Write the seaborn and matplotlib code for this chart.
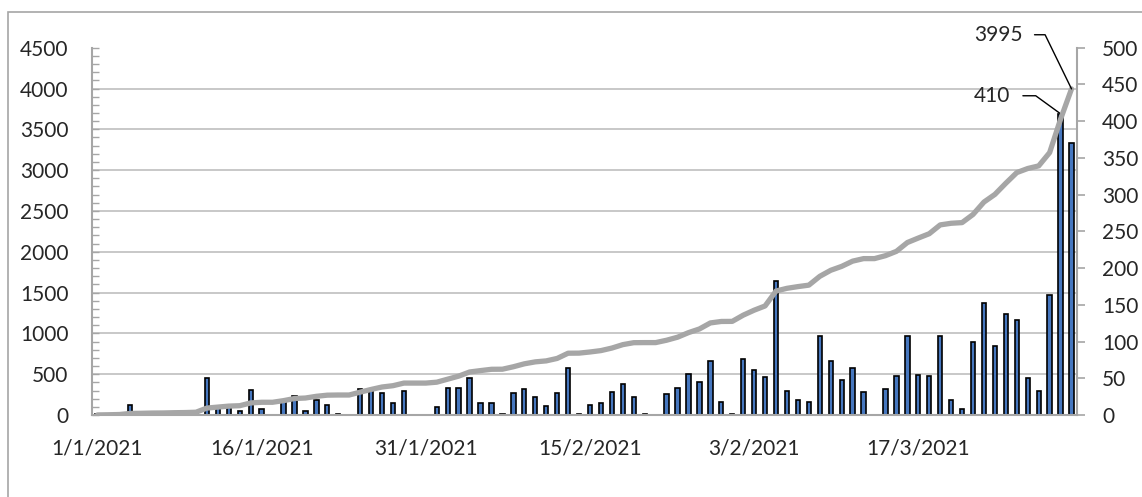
import numpy as np
import matplotlib
matplotlib.use('Agg')
import matplotlib.pyplot as plt
import seaborn as sns
from matplotlib.ticker import MultipleLocator, FixedLocator
from matplotlib.patches import Rectangle

# one category per day, 1/1/2021 onwards
days = list(range(90))

# daily counts (bars, right axis)
daily = [1, 2, 3, 13, 2, 3, 1, 3, 2, 4,
         51, 12, 12, 5, 34, 8, 0, 20, 26, 6,
         21, 14, 2, 0, 35, 33, 30, 16, 32, 0,
         0, 11, 37, 37, 51, 17, 16, 1, 30, 36,
         24, 12, 30, 64, 1, 14, 17, 31, 42, 24,
         1, 0, 29, 37, 56, 45, 74, 18, 1, 76,
         61, 52, 183, 33, 21, 18, 108, 74, 48, 64,
         31, 0, 36, 53, 108, 55, 53, 108, 20, 8,
         100, 152, 94, 137, 130, 50, 32, 163, 410, 370]

# running total (line, left axis)
total = [1, 3, 6, 19, 21, 24, 25, 28, 30, 34,
         85, 97, 109, 114, 148, 156, 156, 176, 202, 208,
         229, 243, 245, 245, 280, 313, 343, 359, 391, 391,
         391, 402, 439, 476, 527, 544, 560, 561, 591, 627,
         651, 663, 693, 757, 758, 772, 789, 820, 862, 886,
         887, 887, 916, 953, 1009, 1054, 1128, 1146, 1147, 1223,
         1284, 1336, 1519, 1552, 1573, 1591, 1699, 1773, 1821, 1885,
         1916, 1916, 1952, 2005, 2113, 2168, 2221, 2329, 2349, 2357,
         2457, 2609, 2703, 2840, 2970, 3020, 3052, 3215, 3625, 3995]

tick_days = [0, 15, 30, 45, 60, 75]
tick_labels = ['1/1/2021', '16/1/2021', '31/1/2021', '15/2/2021', '3/2/2021', '17/3/2021']

sns.set_theme(style='white')
plt.rcParams['font.family'] = ['Lato', 'DejaVu Sans']

W, H = 1142, 497
fig = plt.figure(figsize=(W / 100, H / 100), dpi=100)
ax = fig.add_axes([92 / W, 1 - 415 / H, (1077 - 92) / W, (415 - 47.7) / H])
ax2 = ax.twinx()

# bars on the primary axes (drawn first), line on the twin so it sits on top
sns.barplot(x=days, y=daily, ax=ax, color='#4677bf', edgecolor='black',
            linewidth=1.2, width=0.4, saturation=1)
sns.lineplot(x=days, y=total, ax=ax2, color='#a6a6a6', linewidth=3.8,
             solid_joinstyle='round', solid_capstyle='round')

ax.set_xlim(-0.5, 89.5)
ax.set_xticks(tick_days)
ax.set_xticklabels(tick_labels)
ax.set_xlabel('')
ax.set_ylabel('')
ax2.set_ylabel('')

# right axis = daily
ax.set_ylim(0, 500)
ax.yaxis.tick_right()
ax.yaxis.set_major_locator(MultipleLocator(50))
# gridlines at the left-axis steps, kept behind the bars
ax.yaxis.set_minor_locator(FixedLocator(np.arange(500, 4501, 500) * 500 / 4500))
ax.grid(which='minor', axis='y', color='#bfbfbf', linewidth=1.2)
ax.set_axisbelow(True)
ax.tick_params(axis='y', which='major', direction='out', length=6, width=1.2,
               color='#a6a6a6', pad=12, labelsize=15, right=True, left=False)
ax.tick_params(axis='y', which='minor', length=0)
ax.tick_params(axis='x', length=0, pad=17, labelsize=15)
for s in ax.spines.values():
    s.set_visible(False)

# left axis = running total
ax2.set_ylim(0, 4500)
ax2.yaxis.tick_left()
ax2.yaxis.set_major_locator(MultipleLocator(500))
ax2.yaxis.set_minor_locator(MultipleLocator(100))
ax2.tick_params(axis='y', which='both', direction='in', length=5, width=1,
                color='#a6a6a6', pad=17, labelsize=15, left=True, right=False)
ax2.spines['top'].set_visible(False)
for side in ['left', 'right', 'bottom']:
    ax2.spines[side].set_color('#a6a6a6')
    ax2.spines[side].set_linewidth(1.5)

# callouts: short flat stub from the label, then a slanted leader to the point
ax2.annotate('3995', xy=(89, 3995), xytext=(-35, 39), textcoords='offset points',
             ha='right', va='center', fontsize=15, annotation_clip=False,
             arrowprops=dict(arrowstyle='-', color='black', lw=1, relpos=(1, 0.5),
                             shrinkA=6, shrinkB=0,
                             connectionstyle='angle,angleA=0,angleB=116,rad=0'))
ax2.annotate('410', xy=(88, 410), xycoords=ax.transData, xytext=(-36.5, 13),
             textcoords='offset points', ha='right', va='center', fontsize=15,
             annotation_clip=False,
             arrowprops=dict(arrowstyle='-', color='black', lw=1, relpos=(1, 0.5),
                             shrinkA=7, shrinkB=1,
                             connectionstyle='angle,angleA=0,angleB=144,rad=0'))

# outer chart border (only its top and left edges fall inside the picture)
fig.patches.append(Rectangle((8 / W, -0.1), 1.2, 1.1 - 12.3 / H,
                             transform=fig.transFigure, fill=False,
                             edgecolor='#a6a6a6', linewidth=1.2))

fig.savefig('out.png', dpi=100)
